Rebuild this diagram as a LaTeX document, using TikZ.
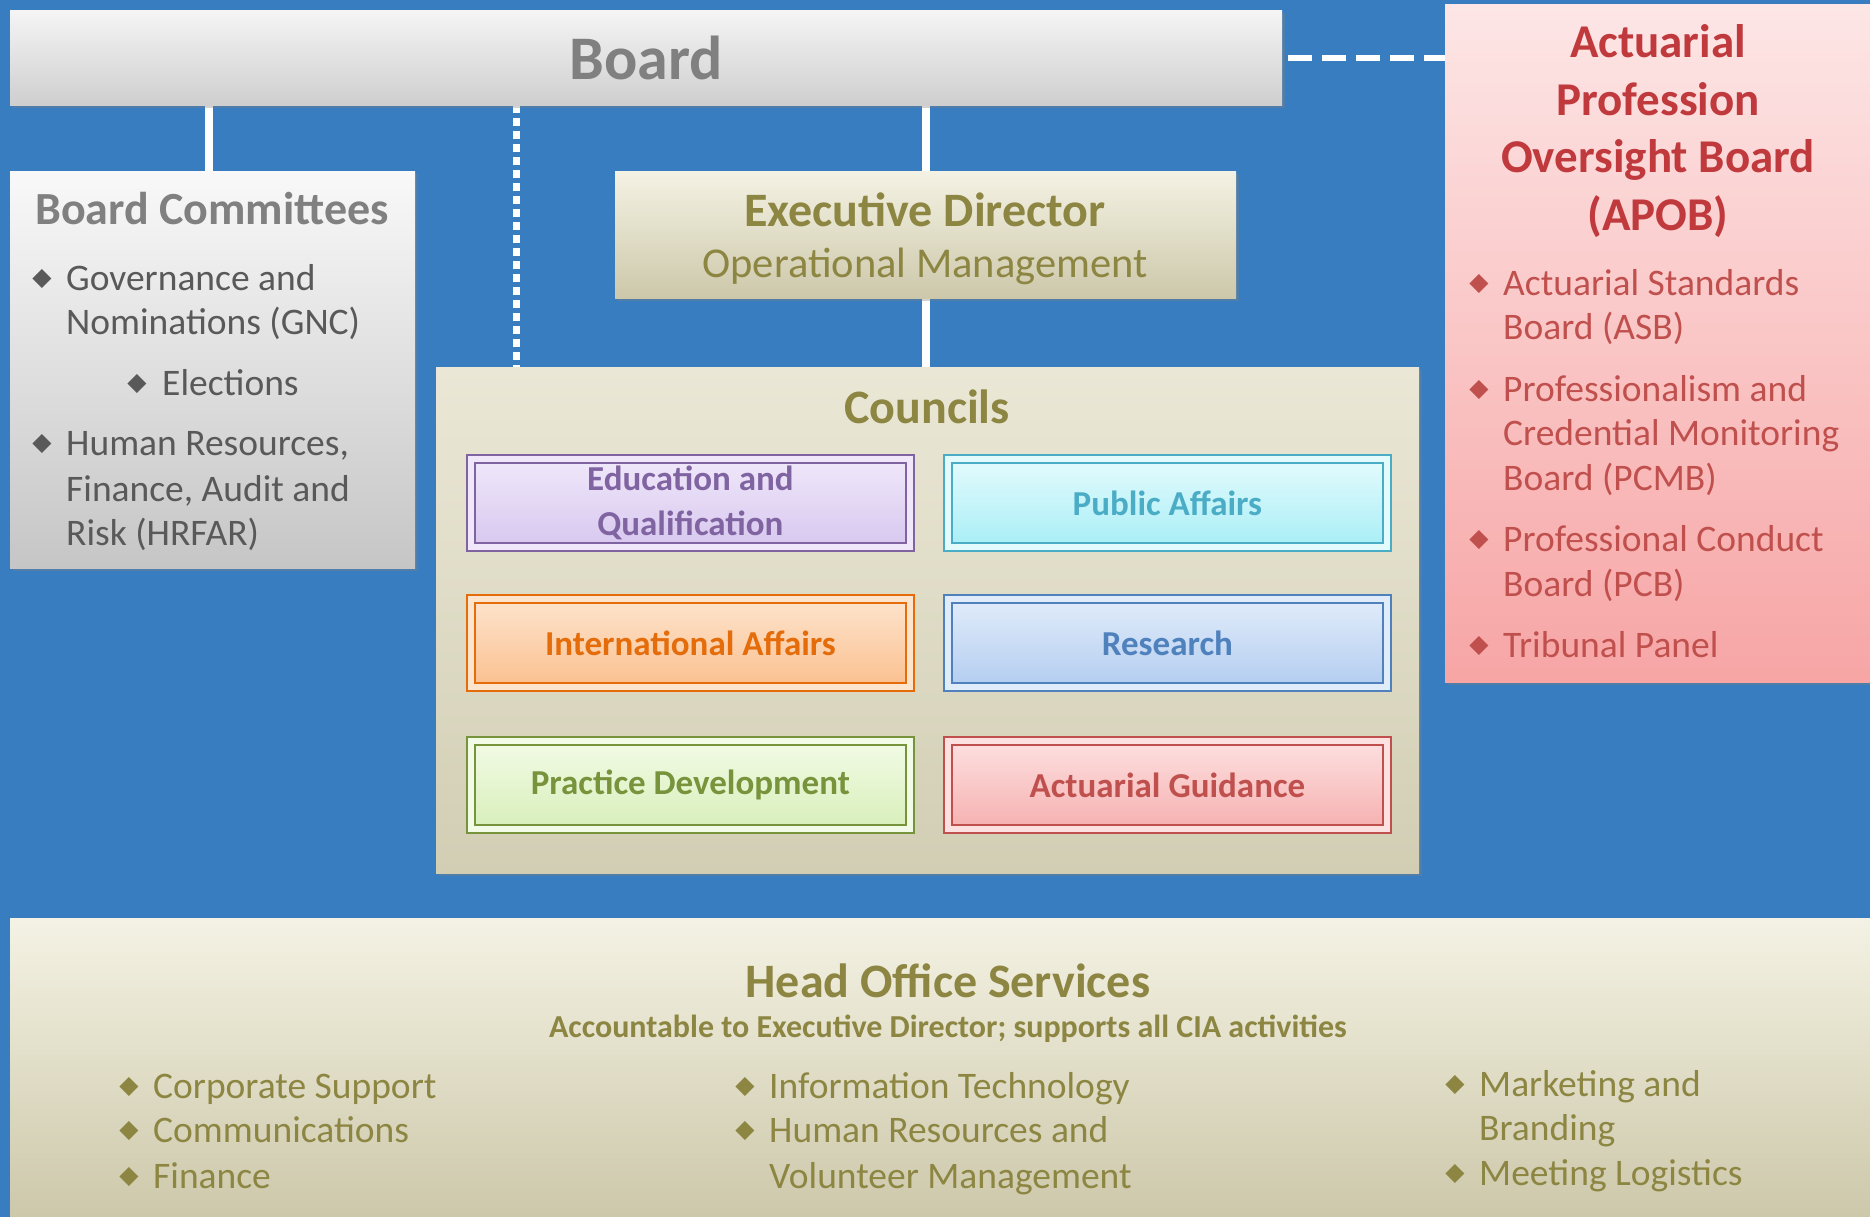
\documentclass[tikz,border=0pt]{standalone}
\usepackage{fontspec}
\setmainfont{Carlito}
\newfontfamily\symfont{DejaVu Sans}
\usepackage{tikz}
\usetikzlibrary{positioning, shadings, shadows, backgrounds}

\definecolor{bgblue}{RGB}{55,125,192}
\definecolor{cmttitle}{RGB}{128,128,128}
\definecolor{cmttext}{RGB}{89,89,89}
\definecolor{olive}{RGB}{140,134,66}
\definecolor{tanhi}{RGB}{244,242,228}
\definecolor{tanlo}{RGB}{205,200,170}
\definecolor{cnchi}{RGB}{234,231,214}
\definecolor{cnclo}{RGB}{210,206,180}
\definecolor{apobhi}{RGB}{253,230,230}
\definecolor{apoblo}{RGB}{247,165,165}
\definecolor{apobred}{RGB}{192,57,60}
\definecolor{apobtext}{RGB}{192,80,77}
% council colours
\definecolor{eduhi}{RGB}{240,232,250}
\definecolor{edulo}{RGB}{215,199,239}
\definecolor{educol}{RGB}{128,100,162}
\definecolor{pubhi}{RGB}{228,251,253}
\definecolor{publo}{RGB}{168,238,246}
\definecolor{pubcol}{RGB}{75,172,198}
\definecolor{intlhi}{RGB}{253,228,205}
\definecolor{intllo}{RGB}{251,192,143}
\definecolor{intlcol}{RGB}{228,108,10}
\definecolor{reshi}{RGB}{225,236,250}
\definecolor{reslo}{RGB}{179,205,240}
\definecolor{rescol}{RGB}{79,129,189}
\definecolor{prachi}{RGB}{242,251,230}
\definecolor{praclo}{RGB}{216,239,186}
\definecolor{praccol}{RGB}{119,147,60}
\definecolor{guidhi}{RGB}{253,224,224}
\definecolor{guidlo}{RGB}{246,176,176}
\definecolor{guidcol}{RGB}{192,80,77}

\begin{document}
\begin{tikzpicture}[x=1pt, y=-1pt,
  box/.style={inner sep=0pt, anchor=north west,
    drop shadow={opacity=0.35, shadow xshift=3pt, shadow yshift=-3pt}},
  greybox/.style={box, top color=white!92!gray, bottom color=gray!38},
  tanbox/.style={box, top color=tanhi, bottom color=tanlo},
  council/.style n args={3}{box, top color=#1, bottom color=#2, draw=#3, text=#3,
    line width=1.8pt, double=#1, double distance=6pt,
    minimum width=439pt, minimum height=88pt, align=center,
    font=\fontsize{35}{45}\selectfont\bfseries},
  ttl/.style={inner sep=0pt, font=\fontsize{46}{56}\selectfont\bfseries},
  ln/.style={anchor=west, inner sep=0pt, text height=26pt, text depth=8pt,
    font=\fontsize{37.5}{45}\selectfont},
  dot/.style={inner sep=0pt, font=\symfont\fontsize{25}{25}\selectfont},
  link/.style={draw=white, line width=8pt},
  dotlink/.style={draw=white, line width=7pt, dash pattern=on 8pt off 5pt},
  dashlink/.style={draw=white, line width=6pt, dash pattern=on 24pt off 10pt}]

\useasboundingbox (0,0) rectangle (1870,1217);

% top row
\node[greybox, minimum width=1272pt, minimum height=95pt, text=cmttitle,
  font=\fontsize{62}{70}\selectfont\bfseries] (board) at (10,10) {Board};
\node[box, top color=apobhi, bottom color=apoblo, minimum width=425pt,
  minimum height=678pt] (apob) at (1445,4) {};
\node[greybox, top color=white!95!gray, bottom color=gray!45,
  minimum width=405pt, minimum height=397pt] (cmte) at (10,171) {};
\node[tanbox, minimum width=621pt, minimum height=127pt] (exec) at (615,171) {};
\node[box, top color=cnchi, bottom color=cnclo, minimum width=983pt,
  minimum height=506pt] (councils) at (436,367) {};
\node[tanbox, minimum width=1860pt, minimum height=299pt] (hos) at (10,918) {};

% connectors
\begin{scope}[on background layer]
\fill[bgblue] (0,0) rectangle (1870,1217);
\coordinate (dotx) at (516,0);
\draw[link] ([xshift=-4pt]cmte.north) -- ([xshift=-4pt]cmte.north |- board.south);
\draw[link] (exec.north) -- (exec.north |- board.south);
\draw[link] (exec.south) -- (exec.south |- councils.north);
\draw[dotlink] (board.south -| dotx) -- (councils.north -| dotx);
\end{scope}
\draw[dashlink] ([xshift=6pt]board.east) -- (board.east -| apob.west);

% board committees
\node[ttl, text=cmttitle] (cmtetitle) at (212,209) {Board Committees};
\foreach \y/\t [count=\i] in {281/Governance and, 325/Nominations (GNC),
    446/{Human Resources,}, 492/{Finance, Audit and}, 536/Risk (HRFAR)}
  \node[ln, text=cmttext] (cl\i) at (66,\y) {\t};
\foreach \y [count=\i] in {279,444}
  \node[dot, text=cmttext] (cb\i) at (42,\y) {◆};
\node[dot, text=cmttext] (elb) at (137,384) {◆};
\node[ln, text=cmttext] (ell) at (162,386) {Elections};

% executive director
\node[ttl, text=olive, font=\fontsize{48}{56}\selectfont\bfseries]
  (exectitle) at (925,210) {Executive Director};
\node[inner sep=0pt, text=olive, font=\fontsize{42.5}{50}\selectfont]
  (execsub) at (925,266) {Operational Management};

% councils
\node[ttl, text=olive, font=\fontsize{48}{56}\selectfont\bfseries]
  (cnctitle) at (927,407) {Councils};
\node[council={eduhi}{edulo}{educol}] (edu) at (470,458) {Education and\\Qualification};
\node[council={pubhi}{publo}{pubcol}] (pub) at (947,458) {Public Affairs};
\node[council={intlhi}{intllo}{intlcol}] (intl) at (470,598) {International Affairs};
\node[council={reshi}{reslo}{rescol}] (res) at (947,598) {Research};
\node[council={prachi}{praclo}{praccol}] (prac) at (470,740) {Practice Development};
\node[council={guidhi}{guidlo}{guidcol}] (guid) at (947,740) {Actuarial Guidance};

% APOB
\node[ttl, text=apobred, align=center, font=\fontsize{47}{57.5}\selectfont\bfseries]
  (apobtitle) at (1658,131) {Actuarial\\Profession\\Oversight Board\\(APOB)};
\foreach \y/\t [count=\i] in {286/Actuarial Standards, 330/Board (ASB),
    392/Professionalism and, 436/Credential Monitoring, 481/Board (PCMB),
    542/Professional Conduct, 587/Board (PCB), 648/Tribunal Panel}
  \node[ln, text=apobtext] (al\i) at (1503,\y) {\t};
\foreach \y [count=\i] in {284,390,540,646}
  \node[dot, text=apobtext] (ab\i) at (1479,\y) {◆};

% head office services
\node[ttl, text=olive, font=\fontsize{48}{56}\selectfont\bfseries]
  (hostitle) at (948,981) {Head Office Services};
\node[inner sep=0pt, text=olive, font=\fontsize{32}{38}\selectfont\bfseries]
  (hossub) at (948,1029) {Accountable to Executive Director; supports all CIA activities};
\foreach \x/\y/\t [count=\i] in {153/1089/Corporate Support, 153/1133/Communications,
    153/1179/Finance, 769/1089/Information Technology, 769/1133/Human Resources and,
    769/1179/Volunteer Management, 1479/1087/Marketing and, 1479/1131/Branding,
    1479/1176/Meeting Logistics}
  \node[ln, text=olive] (hl\i) at (\x,\y) {\t};
\foreach \x/\y [count=\i] in {129/1087, 129/1131, 129/1177, 745/1087, 745/1131,
    1455/1085, 1455/1174}
  \node[dot, text=olive] (hb\i) at (\x,\y) {◆};

\end{tikzpicture}
\end{document}
